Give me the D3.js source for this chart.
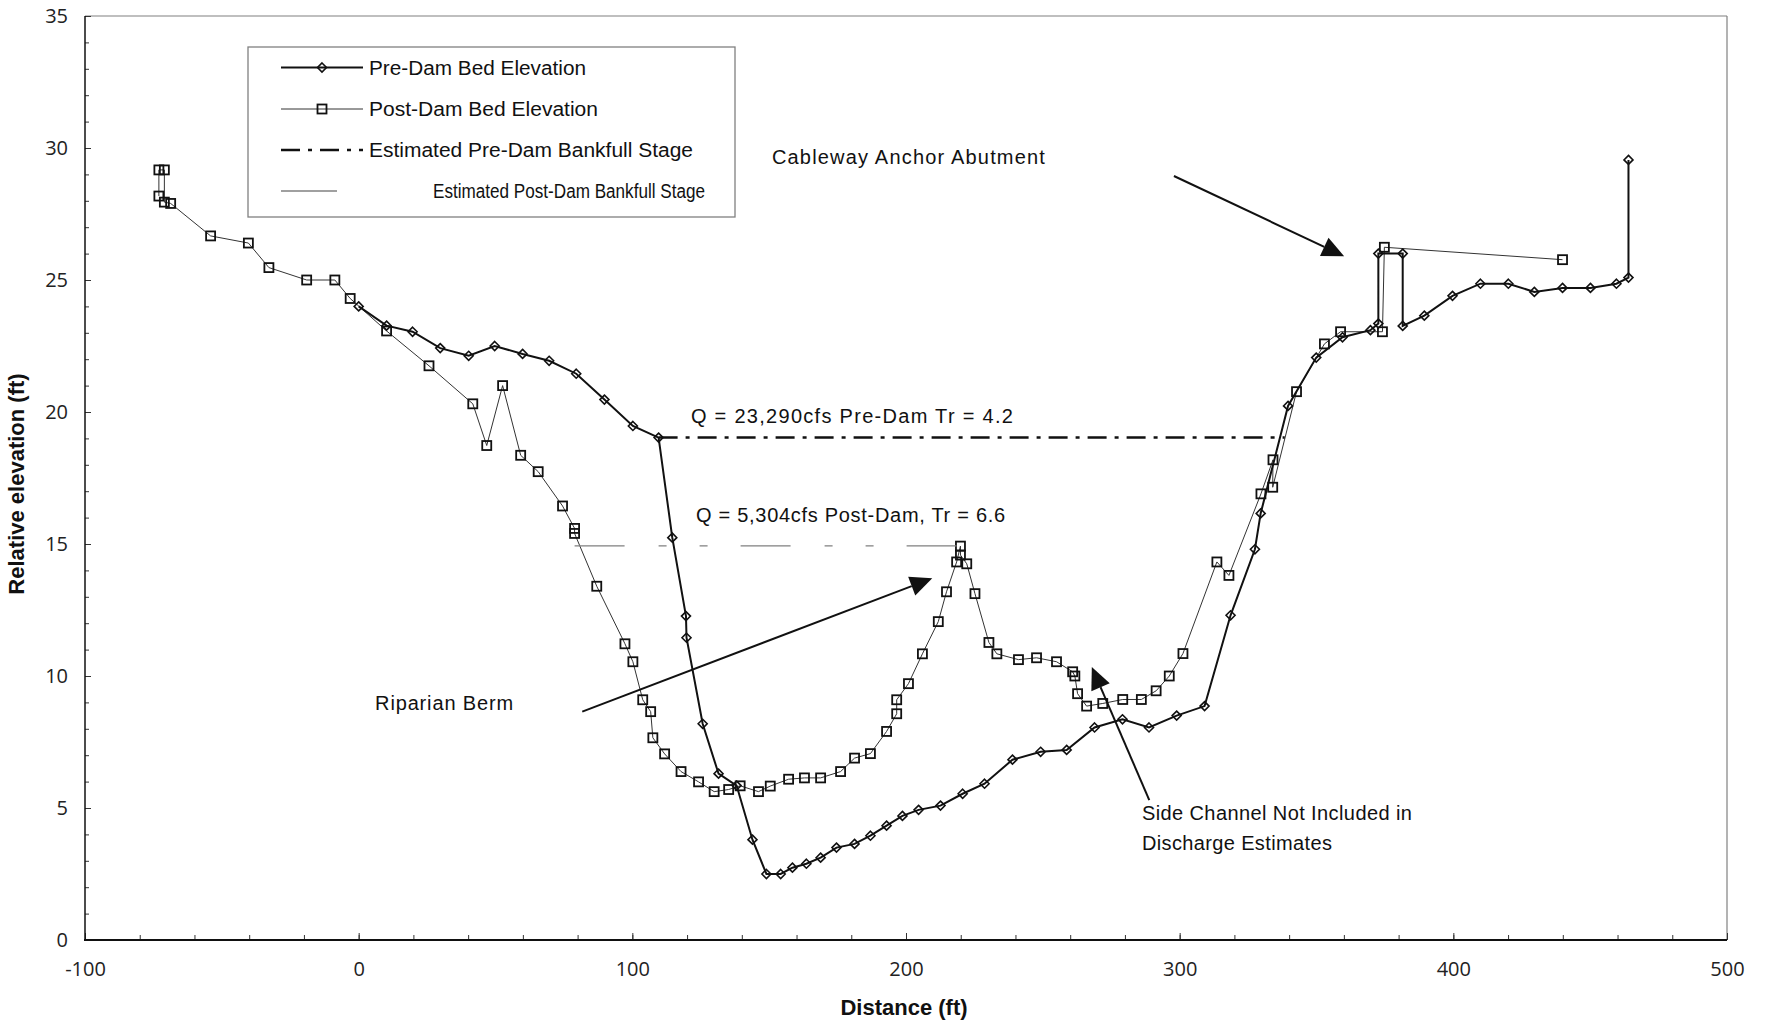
<!DOCTYPE html>
<html>
<head>
<meta charset="utf-8">
<script src="https://cdn.jsdelivr.net/npm/d3@7"></script>
<style>
  body { margin: 0; background: #fff; }
  text { font-family: "Liberation Sans", Arial, sans-serif; fill: #111; }
  .tick text { font-family: "Open Sans", sans-serif; font-size: 20px; fill: #222; }
</style>
</head>
<body>
<script>
// pre-dam bed survey [distance ft, elevation ft]
const preDam = [
  [0, 24.0], [10.2, 23.27], [19.7, 23.04], [29.8, 22.42], [40.2, 22.13], [49.7, 22.5],
  [59.9, 22.2], [69.6, 21.94], [79.5, 21.45], [89.8, 20.47], [100.2, 19.47], [109.6, 19.03],
  [114.6, 15.24], [119.6, 12.27], [119.8, 11.45], [125.7, 8.19], [131.5, 6.3], [138.1, 5.85],
  [143.9, 3.8], [149.0, 2.5], [154.2, 2.5], [158.5, 2.74], [163.6, 2.89], [168.8, 3.12],
  [174.6, 3.5], [181.2, 3.64], [187.0, 3.95], [192.9, 4.33], [198.7, 4.7], [204.6, 4.93],
  [212.6, 5.09], [220.7, 5.54], [228.7, 5.92], [238.9, 6.83], [249.2, 7.13], [258.7, 7.2],
  [268.9, 8.05], [279.1, 8.36], [288.8, 8.05], [298.9, 8.5], [309.1, 8.86], [318.6, 12.3],
  [327.5, 14.8], [329.6, 16.16], [339.6, 20.23], [349.9, 22.06], [359.5, 22.83], [369.7, 23.1],
  [372.6, 23.35], [372.6, 26.0], [381.5, 26.0], [381.5, 23.26], [389.4, 23.65], [399.7, 24.4],
  [409.9, 24.86], [420.1, 24.86], [429.6, 24.55], [439.9, 24.7], [450.1, 24.7], [459.6, 24.86],
  [464.0, 25.09], [464.0, 29.55]
]

// post-dam bed survey
const postDam = [
  [-73, 28.18], [-73, 29.17], [-71, 29.17], [-71, 27.95], [-68.7, 27.9], [-54.1, 26.67],
  [-40.3, 26.4], [-32.8, 25.47], [-19, 25.0], [-8.7, 25.0], [-3.1, 24.3], [10.2, 23.07],
  [25.7, 21.75], [41.7, 20.31], [46.8, 18.73], [52.6, 21.0], [59.2, 18.36], [65.6, 17.74],
  [74.5, 16.44], [78.9, 15.59], [78.9, 15.4], [87.0, 13.4], [97.3, 11.22], [100.2, 10.54],
  [103.8, 9.1], [106.7, 8.65], [107.5, 7.66], [111.8, 7.05], [117.8, 6.38], [124.2, 5.99],
  [129.9, 5.62], [135.2, 5.7], [139.4, 5.84], [146.1, 5.62], [150.4, 5.83], [157.1, 6.09],
  [162.9, 6.14], [168.8, 6.14], [176.1, 6.38], [181.2, 6.89], [187.0, 7.06], [192.9, 7.9],
  [196.6, 8.57], [196.6, 9.1], [200.9, 9.71], [206.0, 10.84], [211.8, 12.06], [214.8, 13.19],
  [218.5, 14.32], [219.9, 14.92], [219.9, 14.58], [222.2, 14.25], [225.2, 13.12], [230.3, 11.27],
  [233.2, 10.84], [241.1, 10.62], [247.7, 10.69], [255.0, 10.54], [260.9, 10.16], [261.7, 10.0],
  [262.7, 9.33], [266.0, 8.86], [271.9, 8.96], [279.2, 9.11], [286.0, 9.11], [291.4, 9.44],
  [296.2, 10.0], [301.2, 10.85], [313.6, 14.32], [318.0, 13.81], [329.7, 16.9], [334.1, 18.19],
  [334.0, 17.15], [342.7, 20.77], [352.9, 22.58], [358.8, 23.04], [374.1, 23.04], [374.8, 26.24],
  [439.9, 25.77]
]

// bankfull stages: [x start, x end, elevation]
const preBankfull = [109.6, 338.4, 19.03]
const postBankfull = [78.9, 219.9, 14.93]

const xTicks = [-100, 0, 100, 200, 300, 400, 500]
const yTicks = [0, 5, 10, 15, 20, 25, 30, 35]

const legendLabels = ['Pre-Dam Bed Elevation', 'Post-Dam Bed Elevation',
  'Estimated Pre-Dam Bankfull Stage', 'Estimated Post-Dam Bankfull Stage']

// annotation arrows: [tail x, tail y, tip x, tip y] in data units
const arrows = [
  [81.7, 8.65, 209.6, 13.7],
  [297.9, 28.94, 360.1, 25.9],
  [288.9, 5.3, 267.9, 10.34]
]

const width = 1765
const height = 1029
const mLeft = 85, mRight = 1727, mTop = 16, mBottom = 940

const x = d3.scaleLinear().domain([-100, 500]).range([mLeft, mRight])
const y = d3.scaleLinear().domain([0, 35]).range([mBottom, mTop])

const svg = d3.select('body').append('svg')
  .attr('width', width)
  .attr('height', height)

// frame
svg.append('line').attr('x1', mLeft).attr('x2', mRight).attr('y1', mTop).attr('y2', mTop)
  .attr('stroke', '#808080').attr('stroke-width', 1.2)
svg.append('line').attr('x1', mRight).attr('x2', mRight).attr('y1', mTop).attr('y2', mBottom)
  .attr('stroke', '#808080').attr('stroke-width', 1.2)

// minor ticks
svg.append('g')
  .attr('transform', `translate(0,${mBottom})`)
  .call(d3.axisBottom(x).ticks(30).tickSize(-5).tickFormat(''))
  .call(g => g.select('.domain').remove())
svg.append('g')
  .attr('transform', `translate(${mLeft},0)`)
  .call(d3.axisLeft(y).ticks(35).tickSize(-4).tickFormat(''))
  .call(g => g.select('.domain').remove())

// major ticks with labels
svg.append('g')
  .attr('transform', `translate(0,${mBottom})`)
  .call(d3.axisBottom(x).tickValues(xTicks).tickFormat(d => String(d))
    .tickSizeInner(-7).tickSizeOuter(0).tickPadding(22))
  .call(g => g.select('.domain').remove())
svg.append('g')
  .attr('transform', `translate(${mLeft},0)`)
  .call(d3.axisLeft(y).tickValues(yTicks).tickFormat(d => String(d))
    .tickSizeInner(-6).tickSizeOuter(0).tickPadding(17))
  .call(g => g.select('.domain').remove())

svg.selectAll('.tick line').attr('stroke', '#333')

// axis lines
svg.append('line').attr('x1', mLeft).attr('x2', mLeft).attr('y1', mTop).attr('y2', mBottom)
  .attr('stroke', '#111').attr('stroke-width', 1.5)
svg.append('line').attr('x1', mLeft - 1).attr('x2', mRight).attr('y1', mBottom).attr('y2', mBottom)
  .attr('stroke', '#111').attr('stroke-width', 2)

// axis titles
svg.append('text')
  .attr('x', 904).attr('y', 1015)
  .attr('text-anchor', 'middle')
  .style('font-weight', 'bold').style('font-size', '22px')
  .text('Distance (ft)')
svg.append('text')
  .attr('transform', `translate(24,${(mTop + mBottom) / 2 + 6}) rotate(-90)`)
  .attr('text-anchor', 'middle')
  .style('font-weight', 'bold').style('font-size', '22px')
  .text('Relative elevation (ft)')

const line = d3.line().x(d => x(d[0])).y(d => y(d[1]))

function diamond(sel, cx, cy) {
  const r = 4.5
  sel.append('path')
    .attr('d', `M${cx},${cy - r}L${cx + r},${cy}L${cx},${cy + r}L${cx - r},${cy}Z`)
    .attr('fill', 'none').attr('stroke', '#111').attr('stroke-width', 1.6)
}
function square(sel, cx, cy) {
  const s = 9
  sel.append('rect')
    .attr('x', cx - s / 2).attr('y', cy - s / 2).attr('width', s).attr('height', s)
    .attr('fill', 'none').attr('stroke', '#111').attr('stroke-width', 1.8)
}

// post-dam
svg.append('path').datum(postDam)
  .attr('d', line)
  .attr('fill', 'none').attr('stroke', '#333').attr('stroke-width', 1)
const postG = svg.append('g')
postDam.forEach(d => square(postG, x(d[0]), y(d[1])))

// pre-dam
svg.append('path').datum(preDam)
  .attr('d', line)
  .attr('fill', 'none').attr('stroke', '#111').attr('stroke-width', 2)
const preG = svg.append('g')
preDam.forEach(d => diamond(preG, x(d[0]), y(d[1])))

// bankfull stages
svg.append('line')
  .attr('x1', x(preBankfull[0])).attr('x2', x(preBankfull[1]))
  .attr('y1', y(preBankfull[2])).attr('y2', y(preBankfull[2]))
  .attr('stroke', '#111').attr('stroke-width', 2.5).attr('stroke-dasharray', '19,8,4,8')
svg.append('line')
  .attr('x1', x(postBankfull[0])).attr('x2', x(postBankfull[1]))
  .attr('y1', y(postBankfull[2])).attr('y2', y(postBankfull[2]))
  .attr('stroke', '#808080').attr('stroke-width', 1.4).attr('stroke-dasharray', '50,34,8,33,8,33')

// arrows
arrows.forEach(a => {
  const x1 = x(a[0]), y1 = y(a[1]), x2 = x(a[2]), y2 = y(a[3])
  const ang = Math.atan2(y2 - y1, x2 - x1)
  const len = 22, half = 10
  const bx = x2 - len * Math.cos(ang), by = y2 - len * Math.sin(ang)
  svg.append('line')
    .attr('x1', x1).attr('y1', y1).attr('x2', bx).attr('y2', by)
    .attr('stroke', '#111').attr('stroke-width', 2)
  const px = -Math.sin(ang) * half, py = Math.cos(ang) * half
  svg.append('path')
    .attr('d', `M${x2},${y2}L${bx + px},${by + py}L${bx - px},${by - py}Z`)
    .attr('fill', '#111')
})

// annotations
const notes = [
  [151.0, 29.66, 'Cableway Anchor Abutment', 273],
  [121.4, 19.85, 'Q = 23,290cfs  Pre-Dam Tr = 4.2', 322],
  [123.3, 16.1, 'Q = 5,304cfs  Post-Dam, Tr = 6.6', 309],
  [6.0, 8.96, 'Riparian Berm', 138],
  [286.2, 4.81, 'Side Channel Not Included in', 270],
  [286.2, 3.67, 'Discharge Estimates', 190]
]
notes.forEach(n => {
  svg.append('text')
    .attr('x', x(n[0])).attr('y', y(n[1]))
    .attr('dy', '0.35em')
    .attr('textLength', n[3])
    .style('font-size', '20px')
    .text(n[2])
})

// legend
const lg = svg.append('g')
lg.append('rect')
  .attr('x', 248).attr('y', 47).attr('width', 487).attr('height', 170)
  .attr('fill', '#fff').attr('stroke', '#808080').attr('stroke-width', 1.3)
const rows = [67.5, 109, 150, 191]
const textW = [217, 229, 324, 272]
legendLabels.forEach((t, i) => {
  const ry = rows[i]
  const l = lg.append('line').attr('x1', 281).attr('y1', ry).attr('y2', ry)
  if (i === 0) {
    l.attr('x2', 363).attr('stroke', '#111').attr('stroke-width', 2)
    diamond(lg, 322, ry)
  } else if (i === 1) {
    l.attr('x2', 363).attr('stroke', '#333').attr('stroke-width', 1)
    square(lg, 322, ry)
  } else if (i === 2) {
    l.attr('x2', 363).attr('stroke', '#111').attr('stroke-width', 2.5).attr('stroke-dasharray', '19,8,4,8')
  } else {
    l.attr('x2', 337).attr('stroke', '#808080').attr('stroke-width', 1.4)
  }
  lg.append('text')
    .attr('x', i === 3 ? 433 : 369).attr('y', ry)
    .attr('dy', '0.35em')
    .attr('textLength', textW[i])
    .attr('lengthAdjust', 'spacingAndGlyphs')
    .style('font-size', '20px')
    .text(t)
})
</script>
</body>
</html>
